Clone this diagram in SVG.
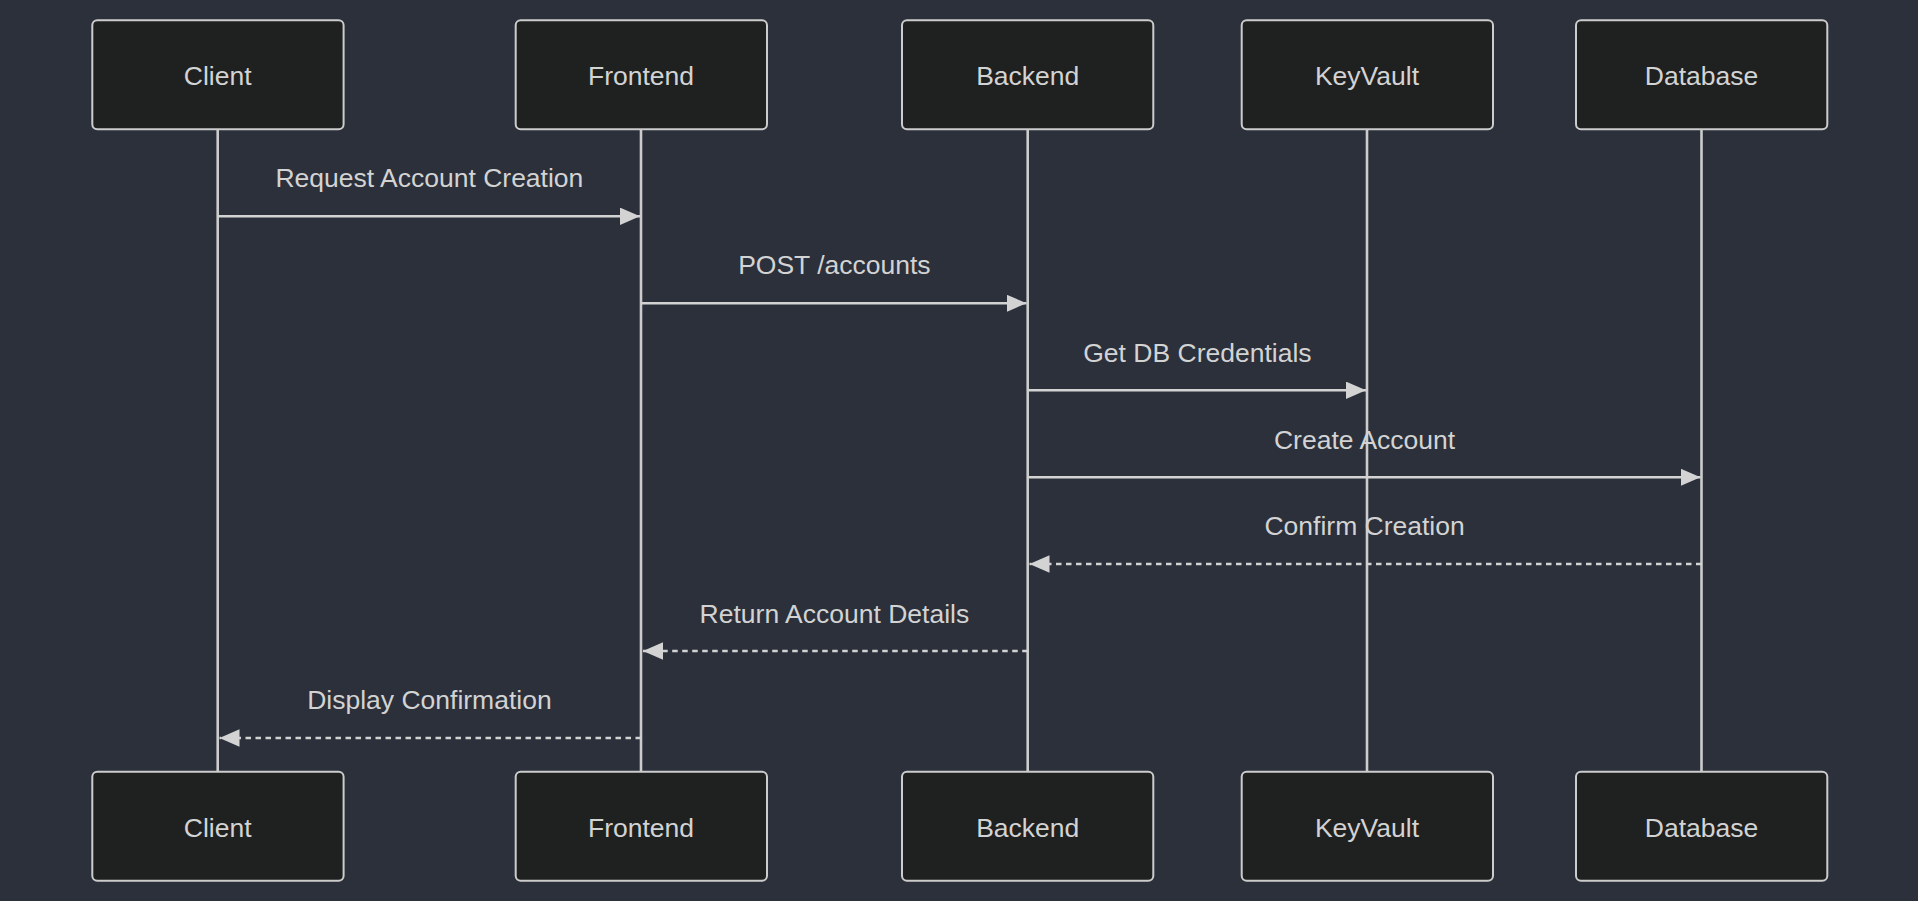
<svg xmlns="http://www.w3.org/2000/svg" width="1918" height="901" viewBox="0 0 1918 901">
<defs>
<style>
.actor rect{fill:#1f2020;stroke:#cccccc;stroke-width:2}
.actor text{fill:#d3d3d3;font-family:"Liberation Sans",Arial,sans-serif;font-size:26.5px;text-anchor:middle}
.life{stroke:#cccccc;stroke-width:2.6}
.msg{stroke:#d3d3d3;stroke-width:2.4;fill:none}
.dash{stroke-dasharray:5.5,4.5}
.lbl{fill:#d3d3d3;font-family:"Liberation Sans",Arial,sans-serif;font-size:26.5px;text-anchor:middle}
</style>
<marker id="arrow" markerUnits="userSpaceOnUse" viewBox="0 0 20 17.4" markerWidth="20" markerHeight="17.4" refX="20" refY="8.7" orient="auto">
<path d="M0,0 L20,8.7 L0,17.4 z" fill="#d3d3d3"/>
</marker>
</defs>
<rect x="0" y="0" width="1918" height="901" fill="#2b303b"/>
<g id="lifelines">
<line class="life" x1="217.7" y1="129" x2="217.7" y2="772"/>
<line class="life" x1="641" y1="129" x2="641" y2="772"/>
<line class="life" x1="1027.7" y1="129" x2="1027.7" y2="772"/>
<line class="life" x1="1367" y1="129" x2="1367" y2="772"/>
<line class="life" x1="1701.5" y1="129" x2="1701.5" y2="772"/>
</g>
<g id="actor-client-top" class="actor"><rect x="92.3" y="20.3" width="251.3" height="109" rx="5"/><text x="217.7" y="85">Client</text></g>
<g id="actor-frontend-top" class="actor"><rect x="515.7" y="20.3" width="251.3" height="109" rx="5"/><text x="641" y="85">Frontend</text></g>
<g id="actor-backend-top" class="actor"><rect x="902" y="20.3" width="251.3" height="109" rx="5"/><text x="1027.7" y="85">Backend</text></g>
<g id="actor-keyvault-top" class="actor"><rect x="1241.7" y="20.3" width="251.3" height="109" rx="5"/><text x="1367" y="85">KeyVault</text></g>
<g id="actor-database-top" class="actor"><rect x="1576" y="20.3" width="251.3" height="109" rx="5"/><text x="1701.5" y="85">Database</text></g>
<g id="actor-client-bottom" class="actor"><rect x="92.3" y="771.7" width="251.3" height="109" rx="5"/><text x="217.7" y="836.5">Client</text></g>
<g id="actor-frontend-bottom" class="actor"><rect x="515.7" y="771.7" width="251.3" height="109" rx="5"/><text x="641" y="836.5">Frontend</text></g>
<g id="actor-backend-bottom" class="actor"><rect x="902" y="771.7" width="251.3" height="109" rx="5"/><text x="1027.7" y="836.5">Backend</text></g>
<g id="actor-keyvault-bottom" class="actor"><rect x="1241.7" y="771.7" width="251.3" height="109" rx="5"/><text x="1367" y="836.5">KeyVault</text></g>
<g id="actor-database-bottom" class="actor"><rect x="1576" y="771.7" width="251.3" height="109" rx="5"/><text x="1701.5" y="836.5">Database</text></g>
<g id="messages">
<text class="lbl" x="429.4" y="187">Request Account Creation</text>
<line class="msg" x1="217.7" y1="216.3" x2="640" y2="216.3" marker-end="url(#arrow)"/>
<text class="lbl" x="834.4" y="274">POST /accounts</text>
<line class="msg" x1="641" y1="303.3" x2="1026.5" y2="303.3" marker-end="url(#arrow)"/>
<text class="lbl" x="1197.4" y="361.5">Get DB Credentials</text>
<line class="msg" x1="1027.7" y1="390.3" x2="1366" y2="390.3" marker-end="url(#arrow)"/>
<text class="lbl" x="1364.6" y="448.5">Create Account</text>
<line class="msg" x1="1027.7" y1="477.3" x2="1700.5" y2="477.3" marker-end="url(#arrow)"/>
<text class="lbl" x="1364.6" y="535">Confirm Creation</text>
<line class="msg dash" x1="1701.5" y1="564" x2="1029.5" y2="564" marker-end="url(#arrow)"/>
<text class="lbl" x="834.4" y="622.5">Return Account Details</text>
<line class="msg dash" x1="1027.7" y1="651" x2="643" y2="651" marker-end="url(#arrow)"/>
<text class="lbl" x="429.4" y="709">Display Confirmation</text>
<line class="msg dash" x1="641" y1="738" x2="219.5" y2="738" marker-end="url(#arrow)"/>
</g>
</svg>
